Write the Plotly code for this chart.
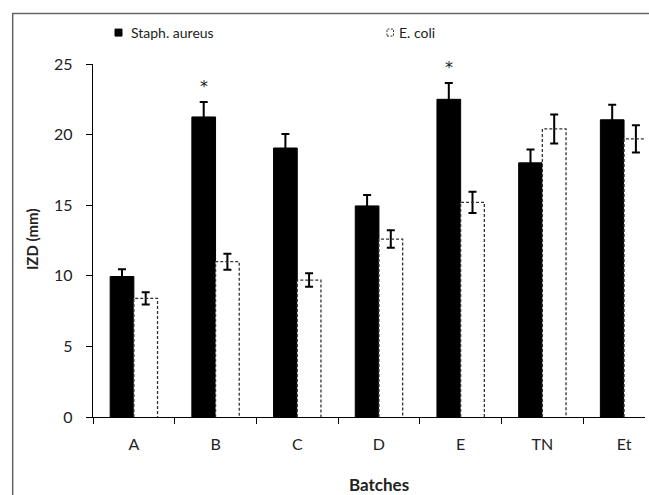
import plotly.graph_objects as go

batches = ["A", "B", "C", "D", "E", "TN", "Et"]
staph = [9.95, 21.25, 19.05, 14.95, 22.5, 18.0, 21.05]
staph_err = [0.52, 1.05, 1.0, 0.78, 1.15, 0.95, 1.06]
ecoli = [8.4, 11.0, 9.7, 12.6, 15.2, 20.4, 19.7]
ecoli_err = [0.43, 0.57, 0.48, 0.62, 0.75, 1.03, 0.96]
significant = ["B", "E"]
y_ticks = [0, 5, 10, 15, 20, 25]

W, H = 649, 495
L, R, T, B = 93, 4, 63.5, 77.7
PW, PH = W - L - R, H - T - B
CAT_PX = 81.7
BARGAP = 0.42
BW = (1 - BARGAP) / 2
xr = [-0.5, -0.5 + PW / CAT_PX]

FONT = "Lato, 'Open Sans', sans-serif"
TXT = "#222"


def px_x(p):
    return (p - L) / PW


def px_y(p):
    return (H - B - p) / PH


fig = go.Figure()
fig.add_bar(
    x=batches, y=staph, name="Staph. aureus",
    marker=dict(color="black", line=dict(color="black", width=1)),
    error_y=dict(type="data", array=staph_err, color="black", thickness=2, width=4),
)
fig.add_bar(
    x=batches, y=ecoli, name="E. coli",
    marker=dict(color="white", line=dict(width=0)),
    error_y=dict(type="data", array=ecoli_err, color="black", thickness=2, width=4),
)

# dashed outlines of E. coli bars, on an overlaid numeric axis aligned with categories
ox, oy = [], []
for i, v in enumerate(ecoli):
    x0, x1 = i, i + BW
    ox += [x0, x0, x1, x1, None]
    oy += [0, v, v, 0, None]
fig.add_scatter(x=ox, y=oy, xaxis="x2", mode="lines",
                line=dict(color="#333", width=1.3, dash="3px,2px"),
                showlegend=False, hoverinfo="skip")

# significance asterisks
for b in significant:
    i = batches.index(b)
    fig.add_annotation(x=i - BW / 2, y=staph[i] + staph_err[i], xref="x2", yref="y",
                       text="*", showarrow=False, yshift=16,
                       font=dict(family="'DejaVu Sans', sans-serif", size=16, color="#222"))

# legend (custom)
fig.add_shape(type="rect", xref="paper", yref="paper",
              x0=px_x(115), x1=px_x(122), y0=px_y(35.5), y1=px_y(28.5),
              fillcolor="black", line=dict(color="black", width=1))
fig.add_annotation(xref="paper", yref="paper", x=px_x(129), y=px_y(32),
                   xanchor="left", yanchor="middle", text="Staph. aureus", showarrow=False,
                   font=dict(family=FONT, size=14, color=TXT))
fig.add_shape(type="rect", xref="paper", yref="paper",
              x0=px_x(387), x1=px_x(393.5), y0=px_y(35.5), y1=px_y(28.5),
              fillcolor="white", line=dict(color="#333", width=1, dash="2px,1.5px"))
fig.add_annotation(xref="paper", yref="paper", x=px_x(397), y=px_y(32),
                   xanchor="left", yanchor="middle", text="E. coli", showarrow=False,
                   font=dict(family=FONT, size=14, color=TXT))

# axis titles
fig.add_annotation(xref="paper", yref="paper", x=px_x(379), y=px_y(485),
                   xanchor="center", yanchor="middle", text="<b>Batches</b>", showarrow=False,
                   font=dict(family=FONT, size=17, color=TXT))
fig.add_annotation(xref="paper", yref="paper", x=px_x(32), y=px_y(239),
                   xanchor="center", yanchor="middle", text="<b>IZD (mm)</b>", showarrow=False,
                   textangle=-90, font=dict(family=FONT, size=15, color=TXT))

# outer frame (cropped on right and bottom)
fig.add_shape(type="rect", xref="paper", yref="paper",
              x0=px_x(12.7), x1=px_x(700), y0=px_y(540), y1=px_y(13),
              line=dict(color="#666", width=1.5), fillcolor="rgba(0,0,0,0)")

fig.update_layout(
    width=W, height=H,
    margin=dict(l=L, r=R, t=T, b=B, pad=0),
    paper_bgcolor="white", plot_bgcolor="white",
    barmode="group", bargap=BARGAP, bargroupgap=0,
    showlegend=False,
    font=dict(family=FONT, size=14, color=TXT),
    xaxis=dict(type="category", range=xr, tickson="boundaries", ticks="outside",
               ticklen=6, tickwidth=1.3, tickcolor="black",
               showline=True, linecolor="black", linewidth=1.3,
               showgrid=False, zeroline=False, ticklabelstandoff=13,
               tickfont=dict(family=FONT, size=16, color=TXT)),
    xaxis2=dict(type="linear", range=xr, overlaying="x", anchor="y", visible=False),
    yaxis=dict(range=[0, 25], tickvals=y_ticks, ticks="outside", ticklen=6,
               tickwidth=1.3, tickcolor="black", showline=True, linecolor="black",
               linewidth=1.3, showgrid=False, zeroline=False, ticklabelstandoff=10,
               tickfont=dict(family=FONT, size=16, color=TXT)),
)

fig.write_html("out.html", config={"displayModeBar": False},
               post_script="document.body.style.margin='0';document.body.style.padding='0';")
